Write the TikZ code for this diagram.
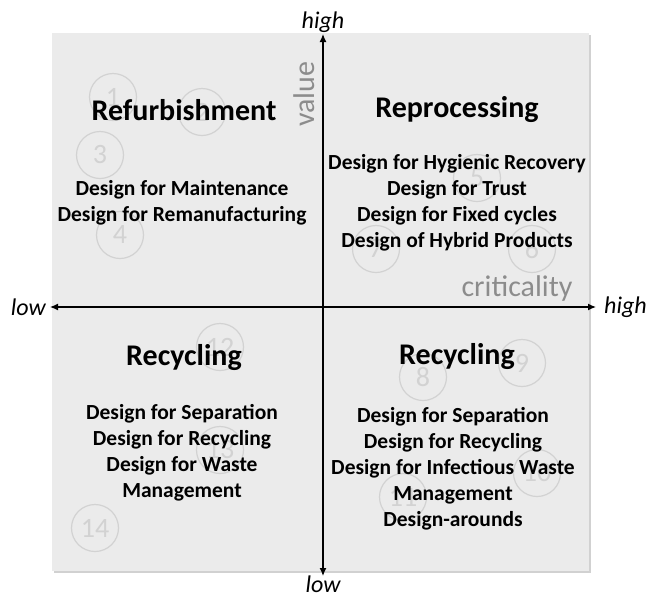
\documentclass[tikz,border=0pt]{standalone}
\usepackage{fontspec}
\setmainfont{Carlito}
\usetikzlibrary{arrows.meta}
\definecolor{panelgray}{HTML}{EBEBEB}
\definecolor{ringgray}{HTML}{D2D2D2}
\definecolor{axisgray}{HTML}{8C8C8C}
\tikzstyle{quadtitle} = [font=\bfseries\fontsize{30}{33}\selectfont, text=black]
\tikzstyle{quaditem} = [font=\bfseries\fontsize{21.5}{26}\selectfont, text=black]
\tikzstyle{axisend} = [font=\itshape\fontsize{24}{27}\selectfont, text=black, inner sep=0pt]
\tikzstyle{axisname} = [font=\fontsize{30}{33}\selectfont, text=axisgray]
\tikzstyle{ring} = [circle, draw=ringgray, line width=1.2pt, minimum size=47pt, inner sep=0pt, text=ringgray, font=\fontsize{28}{30}\selectfont]
\tikzstyle{axis} = [line width=1.3pt, {Latex[length=8pt,width=7pt]}-{Latex[length=8pt,width=7pt]}]
\begin{document}
\begin{tikzpicture}[x=1pt, y=-1pt, node distance=26pt]
\useasboundingbox (0,0) rectangle (651,598);
\fill[black!18] (54,35) rectangle (591,573);
\fill[panelgray] (52,33) rectangle (589,571);

% numbered rings
\node (r1) [ring] at (113,97) {1};
\node (r2) [ring] at (202,112) {2};
\node (r3) [ring] at (100,155) {3};
\node (r4) [ring] at (120,235) {4};
\node (r5) [ring] at (477,178) {5};
\node (r6) [ring] at (532,249) {6};
\node (r7) [ring] at (376,249) {7};
\node (r8) [ring] at (423,377) {8};
\node (r9) [ring] at (522,363) {9};
\node (r10) [ring] at (537,473) {10};
\node (r11) [ring] at (403,497) {11};
\node (r12) [ring] at (220,347) {12};
\node (r13) [ring] at (220,450) {13};
\node (r14) [ring] at (95,528) {14};

% axes
\coordinate (top) at (323,34);
\coordinate (bottom) at (323,576);
\coordinate (left) at (50,307);
\coordinate (right) at (596,307);
\draw[axis] (bottom) -- (top);
\draw[axis] (left) -- (right);
\node (hi1) [axisend, anchor=base] at (323,28) {high};
\node (lo1) [axisend, anchor=base] at (323,592) {low};
\node (lo2) [axisend, anchor=east] at (46,307) {low};
\node (hi2) [axisend, anchor=west] at (604,307) {high};
\node (val) [axisname, rotate=90] at (304,94) {value};
\node (crit) [axisname] at (517,288) {criticality};

% top left
\node (t1) [quadtitle] at (184,110) {Refurbishment};
\node (a1) [quaditem] at (182,190) {Design for Maintenance};
\node (a2) [quaditem, below of=a1] {Design for Remanufacturing};

% top right
\node (t2) [quadtitle] at (457,110) {Reprocessing};
\node (b1) [quaditem] at (457,164) {Design for Hygienic Recovery};
\node (b2) [quaditem, below of=b1] {Design for Trust};
\node (b3) [quaditem, below of=b2] {Design for Fixed cycles};
\node (b4) [quaditem, below of=b3] {Design of Hybrid Products};

% bottom left
\node (t3) [quadtitle] at (184,358) {Recycling};
\node (c1) [quaditem] at (182,414) {Design for Separation};
\node (c2) [quaditem, below of=c1] {Design for Recycling};
\node (c3) [quaditem, below of=c2] {Design for Waste};
\node (c4) [quaditem, below of=c3] {Management};

% bottom right
\node (t4) [quadtitle] at (457,357) {Recycling};
\node (d1) [quaditem] at (453,417) {Design for Separation};
\node (d2) [quaditem, below of=d1] {Design for Recycling};
\node (d3) [quaditem, below of=d2] {Design for Infectious Waste};
\node (d4) [quaditem, below of=d3] {Management};
\node (d5) [quaditem, below of=d4] {Design-arounds};

\end{tikzpicture}
\end{document}
